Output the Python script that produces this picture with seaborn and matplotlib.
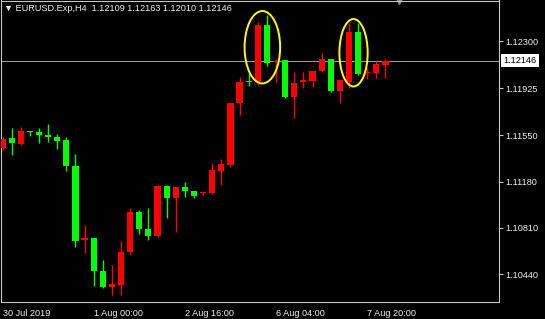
import numpy as np
import pandas as pd
import matplotlib
matplotlib.use("Agg")
import matplotlib.pyplot as plt
import matplotlib.transforms as mtransforms
from matplotlib.patches import Ellipse
import seaborn as sns

# ---- data (EURUSD H4 candles) ----
opens = [1.11446, 1.11526, 1.11478, 1.11582, 1.11574, 1.11550, 1.11534, 1.11510, 1.11302, 1.10711,
         1.10727, 1.10464, 1.10336, 1.10352, 1.10615, 1.10935, 1.10799, 1.10743, 1.11143, 1.11047,
         1.11135, 1.11103, 1.11087, 1.11087, 1.11262, 1.11310, 1.11805, 1.11981, 1.11973, 1.12428,
         1.12132, 1.12148, 1.11853, 1.11973, 1.11981, 1.12061, 1.12156, 1.11901, 1.11973, 1.12372,
         1.12045, 1.12045, 1.12109]
highs = [1.11534, 1.11606, 1.11614, 1.11585, 1.11606, 1.11637, 1.11558, 1.11534, 1.11398, 1.10831,
         1.10730, 1.10552, 1.10512, 1.10703, 1.10967, 1.10951, 1.10967, 1.11150, 1.11150, 1.11140,
         1.11175, 1.11107, 1.11103, 1.11326, 1.11358, 1.11810, 1.12013, 1.12053, 1.12452, 1.12508,
         1.12156, 1.12150, 1.12053, 1.12053, 1.12065, 1.12204, 1.12160, 1.11995, 1.12444, 1.12444,
         1.12084, 1.12140, 1.12163]
lows = [1.11430, 1.11390, 1.11470, 1.11542, 1.11486, 1.11494, 1.11438, 1.11262, 1.10655, 1.10607,
        1.10344, 1.10330, 1.10272, 1.10272, 1.10591, 1.10759, 1.10711, 1.10735, 1.10887, 1.10775,
        1.11055, 1.11047, 1.11071, 1.11080, 1.11151, 1.11300, 1.11710, 1.11941, 1.11949, 1.12100,
        1.11973, 1.11845, 1.11686, 1.11925, 1.11933, 1.12055, 1.11895, 1.11805, 1.11925, 1.12030,
        1.11997, 1.12005, 1.12010]
closes = [1.11518, 1.11486, 1.11582, 1.11574, 1.11550, 1.11534, 1.11502, 1.11302, 1.10703, 1.10727,
          1.10464, 1.10336, 1.10360, 1.10615, 1.10935, 1.10799, 1.10743, 1.11143, 1.11047, 1.11135,
          1.11103, 1.11063, 1.11095, 1.11270, 1.11318, 1.11805, 1.11973, 1.11973, 1.12428, 1.12124,
          1.12140, 1.11853, 1.11965, 1.11989, 1.12061, 1.12156, 1.11901, 1.11989, 1.12372, 1.12037,
          1.12053, 1.12116, 1.12146]

y_ticks = [1.12300, 1.11925, 1.11550, 1.11180, 1.10810, 1.10440]
y_tick_labels = ["1.12300", "1.11925", "1.11550", "1.11180", "1.10810", "1.10440"]
x_tick_bars = [0, 10, 20, 30, 40]
x_tick_labels = ["30 Jul 2019", "1 Aug 00:00", "2 Aug 16:00", "6 Aug 04:00", "7 Aug 20:00"]
highlight_pairs = [(28, 29), (38, 39)]
symbol = "EURUSD.Exp,H4"
last_price = closes[-1]

df = pd.DataFrame({"open": opens, "high": highs, "low": lows, "close": closes})
df["bar"] = np.arange(len(df))
df["up"] = df["close"] >= df["open"]

# ---- style ----
sns.set_theme(style="dark", rc={
    "axes.facecolor": "black", "figure.facecolor": "black",
    "axes.edgecolor": "#c8c8c8", "axes.linewidth": 0.8,
    "xtick.color": "#c8c8c8", "ytick.color": "#c8c8c8",
    "text.color": "#f0f0f0", "axes.grid": False,
})
plt.rcParams["font.family"] = ["Liberation Sans", "DejaVu Sans"]
FS = 6.6
UP, DOWN = "#ff0000", "#00ff00"

fig = plt.figure(figsize=(5.45, 3.19), dpi=100)
W, H = 545, 319
ax = fig.add_axes([0.5 / W, 17 / H, 498 / W, 301.5 / H])

colors = np.where(df["up"], UP, DOWN)
body_bottom = np.minimum(df["open"], df["close"])
body_h = np.maximum(np.abs(df["close"] - df["open"]), 0.00009)

ax.axhline(last_price, color="#9a9a9a", lw=0.8, zorder=1)
ax.vlines(df["bar"], df["low"], df["high"], colors=colors, lw=1.0, zorder=2)
ax.bar(df["bar"], body_h, bottom=body_bottom, width=0.68, color=colors,
       edgecolor=colors, linewidth=0, zorder=3)

# highlight ellipses
for a, b in highlight_pairs:
    hi = max(df.loc[a, "high"], df.loc[b, "high"])
    lo = min(df.loc[a, "low"], df.loc[b, "low"])
    cx = (a + b) / 2
    cy = (hi + lo) / 2 + 0.00025
    w = 3.9 if a == highlight_pairs[0][0] else 3.1
    e = Ellipse((cx, cy), w, (hi - lo) + 0.0002, fill=False, edgecolor="#ffff00",
                lw=1.4, zorder=4)
    ax.add_patch(e)

ax.set_xlim(-0.22, 54.4)
ax.set_ylim(1.10217, 1.12627)

ax.yaxis.tick_right()
ax.set_yticks(y_ticks)
ax.set_yticklabels(y_tick_labels)
ax.set_xticks(x_tick_bars)
ax.set_xticklabels(x_tick_labels, ha="left")
ax.tick_params(axis="both", labelsize=FS, labelcolor="#f0f0f0", length=3, width=0.8,
               direction="out")
ax.tick_params(axis="y", pad=2)
ax.tick_params(axis="x", pad=2)
for s in ax.spines.values():
    s.set_visible(True)
    s.set_color("#c8c8c8")

# current price box
trans = mtransforms.blended_transform_factory(ax.transAxes, ax.transData)
ax.text(1.0 + 5 / 498, last_price, f"{last_price:.5f}", transform=trans, ha="left",
        va="center", fontsize=FS, color="black", clip_on=False,
        bbox=dict(facecolor="white", edgecolor="none", boxstyle="square,pad=0.25"))

# header text
ax.text(4 / 498, 1 - 8 / 301.5,
        f"\u25bc {symbol}  " + " ".join(f"{v:.5f}" for v in [opens[-1], highs[-1], lows[-1], closes[-1]]),
        transform=ax.transAxes, ha="left", va="center", fontsize=FS, color="#f0f0f0")

# shift marker at top
ax.plot([398 / 498], [1.0], marker="v", color="#8090a0", markersize=5,
        transform=ax.transAxes, clip_on=False)

fig.savefig("out.png", dpi=100, facecolor="black")
